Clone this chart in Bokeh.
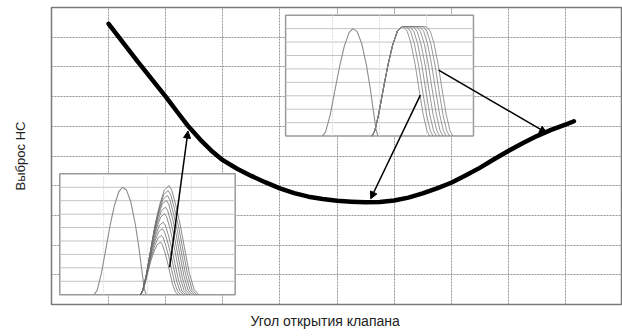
import numpy as np
from bokeh.plotting import figure
from bokeh.models import Arrow, NormalHead, Title, FixedTicker
from bokeh.embed import file_html
from bokeh.resources import INLINE

# ---------------- data ----------------
# main curve (HC emission vs valve opening angle)
main_x = [1.0, 1.5, 2.0, 2.2, 2.4, 2.6, 2.8, 3.0, 3.25, 3.5, 3.75, 4.0, 4.25, 4.5, 4.75,
          5.0, 5.25, 5.5, 5.75, 6.0, 6.25, 6.5, 6.75, 7.0, 7.25, 7.5, 7.75, 8.0, 8.25,
          8.5, 8.75, 9.0, 9.15]
main_y = [9.45, 8.2, 7.0, 6.49, 5.99, 5.56, 5.18, 4.86, 4.57, 4.33, 4.11, 3.91, 3.75, 3.63, 3.55,
          3.49, 3.46, 3.44, 3.45, 3.5, 3.6, 3.74, 3.91, 4.1, 4.34, 4.6, 4.89, 5.17, 5.43,
          5.67, 5.88, 6.06, 6.17]

# inset: first (exhaust) lift profile, inset-local units (u: 0..4, v: 0..9)
bell_u = [0.78, 0.85, 0.95, 1.05, 1.15, 1.25, 1.35, 1.43, 1.52, 1.62, 1.72, 1.80, 1.88, 1.93, 1.97]
bell_v = [0.0, 0.3, 1.6, 3.4, 5.2, 6.7, 7.7, 8.0, 7.8, 6.9, 5.3, 3.6, 1.6, 0.4, 0.0]

# upper inset: intake lift family (shared rise, various dwell, shared fall shape)
rise_u = [1.84, 1.90, 1.98, 2.08, 2.18, 2.28, 2.38, 2.48]
rise_v = [0.0, 0.4, 1.6, 3.5, 5.3, 6.8, 7.8, 8.15]
fall_du = [0.0, 0.08, 0.16, 0.25, 0.33, 0.42, 0.50, 0.56]
fall_v = [8.15, 7.8, 6.9, 5.3, 3.5, 1.6, 0.4, 0.0]
dwell = [0.03, 0.10, 0.17, 0.24, 0.31, 0.38, 0.45, 0.52]

# lower inset: intake lift family with variable lift
fam2_start = 1.84
fam2_peak_u = [2.49, 2.47, 2.45, 2.43, 2.41, 2.39, 2.36, 2.34, 2.32, 2.30]
fam2_peak_v = [8.13, 7.76, 7.39, 7.02, 6.52, 6.03, 5.40, 4.91, 4.41, 3.91]
fam2_end_u = [3.17, 3.12, 3.07, 3.02, 2.97, 2.92, 2.87, 2.82, 2.76, 2.70]
prof_t = [0.0, 0.09, 0.22, 0.37, 0.52, 0.68, 0.84, 1.0]
prof_s = [0.0, 0.05, 0.20, 0.43, 0.65, 0.83, 0.96, 1.0]

x_label = "Угол открытия клапана"
y_label = "Выброс НС"
grid_ticks = [1, 2, 3, 4, 5, 6, 7, 8, 9]

# ---------------- layout constants ----------------
INSET1 = (4.10, 7.39, 5.67, 9.74)   # x0, x1, y0, y1 in main data units
INSET2 = (0.145, 3.217, 0.33, 4.40)

ARROWS = [((2.07, 1.26), (2.39, 5.84)),
          ((6.46, 7.05), (5.59, 3.56)),
          ((6.78, 7.89), (8.67, 5.78))]


def to_main(box, u, v):
    x0, x1, y0, y1 = box
    u = np.asarray(u, dtype=float)
    v = np.asarray(v, dtype=float)
    return x0 + u / 4.0 * (x1 - x0), y0 + v / 9.0 * (y1 - y0)


p = figure(width=622, height=336, x_range=(0, 10), y_range=(0, 10),
           output_backend="svg", toolbar_location=None,
           min_border_left=51, min_border_right=0, min_border_top=7, min_border_bottom=32)
p.background_fill_color = "white"
p.border_fill_color = "white"
p.outline_line_color = "#7a7a7a"
p.outline_line_width = 1.5

p.xaxis.visible = False
ax = p.yaxis[0]
ax.ticker = FixedTicker(ticks=[])
ax.axis_line_color = None
ax.major_tick_line_color = None
ax.minor_tick_line_color = None
ax.axis_label = y_label
ax.axis_label_standoff = 24
ax.axis_label_text_font = "Liberation Sans"
ax.axis_label_text_font_size = "13px"
ax.axis_label_text_font_style = "normal"
ax.axis_label_text_color = "#222222"

p.xgrid.ticker = FixedTicker(ticks=grid_ticks)
p.ygrid.ticker = FixedTicker(ticks=grid_ticks)
for g in (p.xgrid, p.ygrid):
    g.grid_line_color = "#8a8a8a"
    g.grid_line_width = 1
    g.grid_line_dash = "2 1"
    g.grid_line_alpha = 0.9


def draw_inset(box):
    x0, x1, y0, y1 = box
    p.quad(left=x0, right=x1, bottom=y0, top=y1, fill_color="white",
           line_color="#9a9a9a", line_width=1.5)
    for k in range(1, 9):
        xs, ys = to_main(box, [0, 4], [k, k])
        p.line(xs, ys, line_color="#c4c4c4", line_width=1)
    for k in range(1, 4):
        xs, ys = to_main(box, [k, k], [0, 9])
        p.line(xs, ys, line_color="#dedede", line_width=1, line_dash="2 1")


draw_inset(INSET1)
draw_inset(INSET2)

for box in (INSET1, INSET2):
    bx, by = to_main(box, bell_u, bell_v)
    p.line(bx, by, line_color="#8c8c8c", line_width=1.1)

for d in dwell:
    u = list(rise_u) + [rise_u[-1] + d + f for f in fall_du]
    v = list(rise_v) + list(fall_v)
    xs, ys = to_main(INSET1, u, v)
    p.line(xs, ys, line_color="#7e7e7e", line_width=1, line_alpha=0.8)

for pu, pv, eu in zip(fam2_peak_u, fam2_peak_v, fam2_end_u):
    u = [fam2_start + t * (pu - fam2_start) for t in prof_t]
    v = [s * pv for s in prof_s]
    u += [pu + t * (eu - pu) for t in prof_t[1:]]
    v += [s * pv for s in prof_s[::-1][1:]]
    xs, ys = to_main(INSET2, u, v)
    p.line(xs, ys, line_color="#6e6e6e", line_width=1, line_alpha=0.8)

p.line(main_x, main_y, line_color="black", line_width=4.5, line_join="round", line_cap="round")

for (xs_, ys_), (xe, ye) in ARROWS:
    p.add_layout(Arrow(end=NormalHead(size=7, fill_color="black", line_color="black"),
                       x_start=xs_, y_start=ys_, x_end=xe, y_end=ye,
                       line_color="black", line_width=1.5))

p.add_layout(Title(text=x_label, align="left", offset=199, standoff=12,
                   text_font="Liberation Sans", text_font_size="14px",
                   text_font_style="normal", text_color="#222222"), "below")

open("out.html", "w").write(file_html(p, INLINE))
